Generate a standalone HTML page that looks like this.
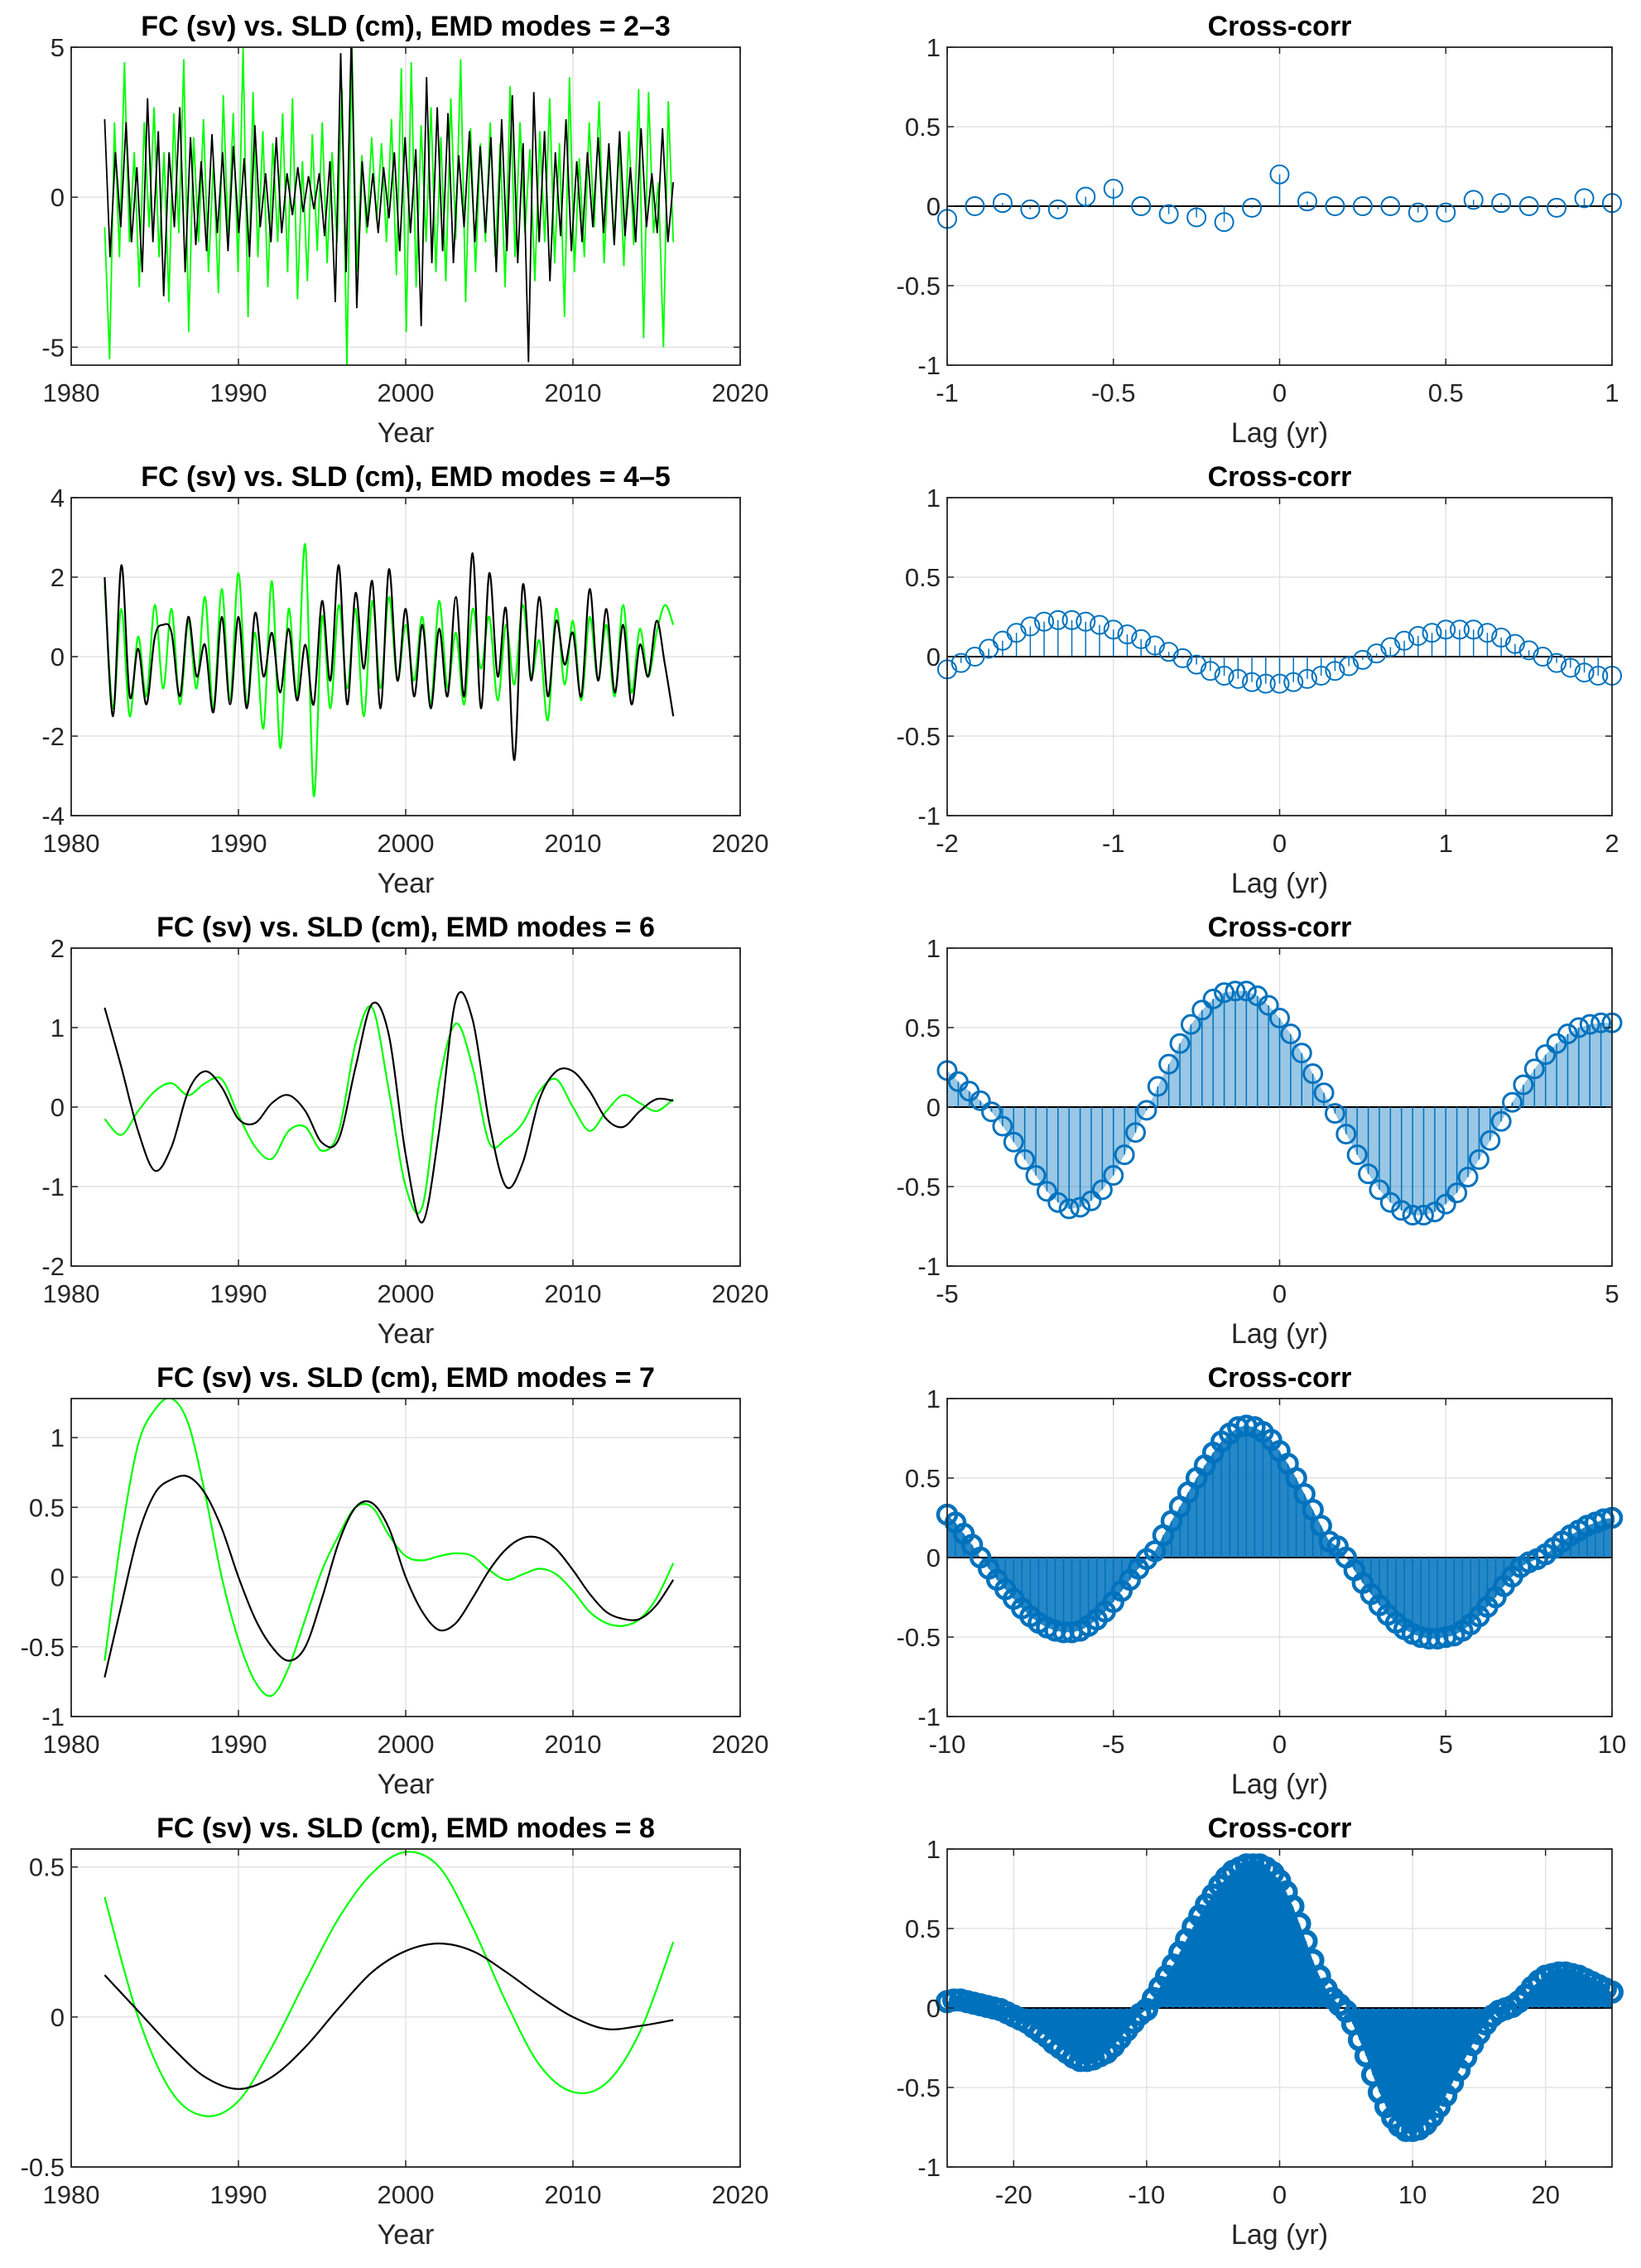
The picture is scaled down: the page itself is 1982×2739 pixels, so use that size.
<!DOCTYPE html>
<html><head><meta charset="utf-8"><style>
html,body{margin:0;padding:0;background:#fff;}
svg{display:block;font-family:"Liberation Sans",Arial,sans-serif;}
</style></head><body>
<svg id="fig" width="1982" height="2739" viewBox="0 0 1982 2739" xmlns="http://www.w3.org/2000/svg"></svg>
<script>
// ---------- DATA ----------
const ts1Green=[-1.0,-5.4,2.5,-2,4.5,-1.5,1.5,-3,2.5,-1,3,-2,1.5,-3.5,2.8,-1.2,4.6,-4.5,2,-1.5,2.6,-2.5,1.2,-3.2,3.4,-1.5,2.8,-2.5,5,-4,3.5,-2,2.2,-3,1.8,-1.5,2.8,-2.5,3.3,-3.4,1.2,-2.8,2.1,-1.8,2.5,-2.2,1.5,-1.5,3.6,-5.7,5,-2.5,1.4,-1.2,2,-0.8,1.8,-1.5,2.6,-2.6,4.3,-4.5,4.5,-3,2.4,-1.5,3.0,-2.5,2.0,-2.8,3.3,-1.4,4.6,-3.5,2.3,-2.5,1.8,-1.5,2.5,-2,1.8,-3,3.7,-2,2.5,-1.2,1.6,-2.8,2.2,-1.5,3.3,-2.2,1.8,-4,4.0,-2.5,1.3,-2,2.5,-1,3.2,-2.2,1.5,-1.5,1.8,-2.3,2.2,-1.6,3.6,-4.7,3.5,-1.2,0.5,-5,3.2,-1.5];
const ts1Black=[2.6,-2,1.5,-1,2.5,-1.5,1,-2.5,3.3,-1.5,2.2,-3.3,1.5,-1,3.0,-2.5,2,-1.6,1.2,-1.8,2.1,-1.2,1.5,-1.8,1.7,-1.2,1.3,-2,2.4,-1,0.8,-1.5,2,-1.2,0.8,-0.6,1,-0.5,0.7,-0.4,0.8,-1.3,1.2,-3.5,4.8,-2.5,5.5,-3.7,1.2,-1,0.8,-1.2,1.0,-0.7,1.5,-1.8,2.0,-1.2,1.6,-4.3,4.0,-2.2,3.0,-1.8,2.8,-2.2,1.4,-1.0,2.2,-1.5,1.7,-1.2,2.0,-2.5,2.6,-1.8,3.4,-2.2,1.8,-5.5,3.5,-1.5,2.2,-2.8,1.5,-1.3,2.6,-1.8,1.2,-1.5,1.5,-1,2,-1.2,1.8,-1.6,2.2,-1.3,1.0,-1.5,2.3,-1.0,0.8,-1.2,2.3,-1.5,0.5];
const ts2Green=[1.8,-1.3,1.2,-1.5,0.5,-1.0,1.3,-0.8,1.2,-1.2,0.9,-0.8,1.5,-1.3,1.7,-1.1,2.1,-1.2,0.6,-1.8,1.9,-2.3,1.2,-1.0,2.8,-3.5,1.0,-1.3,1.3,-0.8,1.2,-1.5,1.4,-0.8,1.5,-0.6,0.8,-0.6,1.0,-1.2,1.4,-0.8,0.6,-1.2,1.2,-0.3,1.0,-1.1,0.8,-0.7,1.3,-0.5,0.4,-1.6,1.2,-0.7,0.9,-1.1,1.0,-0.6,0.8,-1.0,1.3,-0.9,0.7,-0.5,0.6,1.3,0.8];
const ts2Black=[2.0,-1.5,2.3,-1.0,0.2,-1.2,0.5,0.8,0.6,-1.0,1.0,-0.5,0.3,-1.4,1.0,-1.2,1.0,-1.3,1.1,-0.5,0.6,-0.9,0.7,-1.1,0.3,-1.2,1.4,-0.6,2.3,-1.2,1.6,-0.3,1.9,-1.3,2.2,-0.6,1.2,-1.0,0.8,-1.3,0.7,-1.0,1.5,-1.0,2.6,-1.3,2.1,-0.5,1.2,-2.6,1.8,-0.6,1.5,-1.0,0.9,-0.2,0.6,-1.0,1.7,-0.6,1.2,-0.9,0.8,-1.2,0.3,-0.5,0.9,-0.2,-1.5];
const ts3Green=[-0.15,-0.35,-0.05,0.2,0.3,0.15,0.3,0.35,-0.1,-0.5,-0.65,-0.3,-0.25,-0.55,-0.3,0.8,1.25,0.2,-1.0,-1.25,0.3,1.05,0.5,-0.45,-0.4,-0.2,0.2,0.35,0.0,-0.3,-0.05,0.15,0.05,-0.05,0.1];
const ts3Black=[1.25,0.5,-0.3,-0.8,-0.5,0.2,0.45,0.25,-0.15,-0.2,0.05,0.15,-0.05,-0.45,-0.4,0.5,1.3,0.9,-0.6,-1.45,-0.3,1.35,1.1,-0.2,-1.0,-0.7,0.1,0.45,0.45,0.2,-0.15,-0.25,-0.05,0.1,0.08];
const ts4Green=[-0.6,0.3,0.95,1.2,1.28,1.1,0.6,0.0,-0.45,-0.75,-0.85,-0.65,-0.3,0.05,0.3,0.5,0.5,0.3,0.15,0.12,0.15,0.17,0.15,0.05,-0.02,0.02,0.06,0.02,-0.1,-0.25,-0.33,-0.35,-0.3,-0.15,0.1];
const ts4Black=[-0.72,-0.2,0.3,0.6,0.7,0.72,0.6,0.35,0.0,-0.3,-0.5,-0.6,-0.5,-0.15,0.25,0.5,0.53,0.35,0.0,-0.25,-0.38,-0.33,-0.15,0.05,0.2,0.28,0.28,0.2,0.05,-0.12,-0.25,-0.3,-0.3,-0.2,-0.02];
const ts5Green=[0.4,0.0,-0.25,-0.33,-0.28,-0.1,0.12,0.33,0.48,0.55,0.5,0.3,0.05,-0.16,-0.25,-0.22,-0.05,0.25];
const ts5Black=[0.14,0.02,-0.1,-0.2,-0.24,-0.2,-0.1,0.03,0.15,0.22,0.245,0.22,0.15,0.07,0.0,-0.04,-0.03,-0.01];

const cc1=[-0.08,0,0.02,-0.02,-0.02,0.06,0.11,0,-0.05,-0.07,-0.1,-0.01,0.2,0.03,0,0,0,-0.04,-0.04,0.04,0.02,0,-0.01,0.05,0.02];
const cc2=[-0.08,-0.04,0.0,0.05,0.1,0.15,0.19,0.22,0.23,0.23,0.22,0.2,0.17,0.14,0.11,0.07,0.03,-0.01,-0.05,-0.09,-0.12,-0.14,-0.16,-0.17,-0.17,-0.16,-0.14,-0.12,-0.09,-0.06,-0.02,0.02,0.06,0.1,0.13,0.15,0.17,0.17,0.17,0.15,0.12,0.08,0.04,0.0,-0.04,-0.07,-0.1,-0.12,-0.12];
const cc3=[0.23,0.16,0.10,0.04,-0.03,-0.12,-0.22,-0.33,-0.43,-0.53,-0.60,-0.64,-0.63,-0.59,-0.52,-0.43,-0.30,-0.16,-0.02,0.13,0.27,0.40,0.52,0.61,0.68,0.72,0.73,0.73,0.70,0.64,0.56,0.46,0.34,0.21,0.09,-0.04,-0.17,-0.30,-0.42,-0.52,-0.60,-0.65,-0.68,-0.68,-0.66,-0.61,-0.54,-0.44,-0.33,-0.21,-0.09,0.03,0.14,0.24,0.33,0.40,0.46,0.50,0.52,0.53,0.53];
const cc4=[0.27,0.22,0.15,0.08,0.0,-0.07,-0.14,-0.2,-0.26,-0.32,-0.37,-0.41,-0.44,-0.46,-0.47,-0.47,-0.46,-0.43,-0.39,-0.34,-0.28,-0.21,-0.14,-0.07,-0.01,0.04,0.14,0.23,0.32,0.41,0.5,0.58,0.66,0.73,0.78,0.82,0.83,0.82,0.79,0.74,0.67,0.59,0.5,0.4,0.3,0.2,0.1,0.07,0.0,-0.08,-0.16,-0.23,-0.3,-0.36,-0.41,-0.45,-0.48,-0.5,-0.51,-0.51,-0.5,-0.49,-0.46,-0.42,-0.37,-0.31,-0.25,-0.18,-0.12,-0.06,-0.03,-0.01,0.02,0.06,0.1,0.14,0.17,0.2,0.22,0.24,0.25];
const cc5=[0.04,0.05,0.05,0.04,0.03,0.02,0.01,0.0,-0.01,-0.03,-0.05,-0.07,-0.09,-0.12,-0.15,-0.18,-0.22,-0.25,-0.28,-0.31,-0.33,-0.33,-0.32,-0.3,-0.28,-0.24,-0.19,-0.14,-0.09,-0.04,-0.01,0.06,0.13,0.2,0.27,0.35,0.43,0.51,0.58,0.65,0.71,0.77,0.82,0.86,0.88,0.9,0.9,0.9,0.88,0.85,0.8,0.73,0.64,0.53,0.42,0.3,0.2,0.12,0.06,0.02,-0.02,-0.1,-0.2,-0.3,-0.42,-0.53,-0.62,-0.69,-0.74,-0.77,-0.77,-0.76,-0.73,-0.68,-0.62,-0.55,-0.47,-0.39,-0.31,-0.23,-0.16,-0.1,-0.05,-0.02,-0.005,0.01,0.04,0.08,0.13,0.17,0.2,0.21,0.22,0.22,0.21,0.2,0.18,0.16,0.14,0.12,0.1];

const leftTitles=["FC (sv) vs. SLD (cm), EMD modes = 2\u20133","FC (sv) vs. SLD (cm), EMD modes = 4\u20135","FC (sv) vs. SLD (cm), EMD modes = 6","FC (sv) vs. SLD (cm), EMD modes = 7","FC (sv) vs. SLD (cm), EMD modes = 8"];
const leftYRanges=[[-5.6,5],[-4,4],[-2,2],[-1,1.28],[-0.5,0.56]];
const leftYTicks=[[-5,0,5],[-4,-2,0,2,4],[-2,-1,0,1,2],[-1,-0.5,0,0.5,1],[-0.5,0,0.5]];
const yearTicks=[1980,1990,2000,2010,2020];
const lagMax=[1,2,5,10,25];
const lagTicks=[[-1,-0.5,0,0.5,1],[-2,-1,0,1,2],[-5,0,5],[-10,-5,0,5,10],[-20,-10,0,10,20]];
const ccYTicks=[-1,-0.5,0,0.5,1];

// ---------- DRAW ----------
const NS="http://www.w3.org/2000/svg";
const svg=document.getElementById('fig');
function mk(tag,attrs,parent){const e=document.createElementNS(NS,tag);for(const k in attrs)e.setAttribute(k,attrs[k]);(parent||svg).appendChild(e);return e;}
const rowTop=[57,601,1145,1689,2233], AH=384;
const LX0=86,LX1=894,RX0=1144,RX1=1947;
function fmt(v){return (v<0?'-':'')+String(Math.abs(v));}

function axesFrame(g,x0,x1,y0,y1,xt,xs,yt,ys){
  xt.forEach(t=>{const x=xs(t);
    const l=mk('line',{x1:x,x2:x,y1:y0,y2:y1,stroke:'#e3e3e3','stroke-width':1.5},g);
    });
  yt.forEach(t=>{const y=ys(t);
    const l=mk('line',{x1:x0,x2:x1,y1:y,y2:y,stroke:'#e3e3e3','stroke-width':1.5},g);
    });
}
function axesBox(g,x0,x1,y0,y1,xt,xs,yt,ys,xlab,title){
  const r=mk('rect',{x:x0,y:y0,width:x1-x0,height:y1-y0,fill:'none',stroke:'#262626','stroke-width':1.8},g);
  
  xt.forEach(t=>{const x=xs(t);
    mk('line',{x1:x,x2:x,y1:y1,y2:y1-8,stroke:'#262626','stroke-width':1.5},g);
    mk('line',{x1:x,x2:x,y1:y0,y2:y0+8,stroke:'#262626','stroke-width':1.5},g);
    const tx=mk('text',{x:x,y:y1+44,'text-anchor':'middle','font-size':31,fill:'#262626'},g);
    tx.textContent=fmt(t);
    });
  yt.forEach(t=>{const y=ys(t);
    mk('line',{x1:x0,x2:x0+8,y1:y,y2:y,stroke:'#262626','stroke-width':1.5},g);
    mk('line',{x1:x1,x2:x1-8,y1:y,y2:y,stroke:'#262626','stroke-width':1.5},g);
    const tx=mk('text',{x:x0-8,y:y+11,'text-anchor':'end','font-size':31,fill:'#262626'},g);
    tx.textContent=fmt(t);
    });
  const xl=mk('text',{x:(x0+x1)/2,y:y1+93,'text-anchor':'middle','font-size':34,fill:'#262626'},g);
  xl.textContent=xlab;
  const ti=mk('text',{x:(x0+x1)/2,y:y0-14,'text-anchor':'middle','font-size':34,'font-weight':'bold',fill:'#000'},g);
  ti.textContent=title;
}
function spline(pts){
  let d='M'+pts[0][0].toFixed(1)+','+pts[0][1].toFixed(1);
  for(let i=0;i<pts.length-1;i++){
    const p0=pts[Math.max(0,i-1)],p1=pts[i],p2=pts[i+1],p3=pts[Math.min(pts.length-1,i+2)];
    const c1=[p1[0]+(p2[0]-p0[0])/6,p1[1]+(p2[1]-p0[1])/6];
    const c2=[p2[0]-(p3[0]-p1[0])/6,p2[1]-(p3[1]-p1[1])/6];
    d+=' C'+c1[0].toFixed(1)+','+c1[1].toFixed(1)+' '+c2[0].toFixed(1)+','+c2[1].toFixed(1)+' '+p2[0].toFixed(1)+','+p2[1].toFixed(1);
  }
  return d;
}
function linePath(pts){return 'M'+pts.map(p=>p[0].toFixed(1)+','+p[1].toFixed(1)).join(' L');}

const tsGreen=[ts1Green,ts2Green,ts3Green,ts4Green,ts5Green];
const tsBlack=[ts1Black,ts2Black,ts3Black,ts4Black,ts5Black];
const ccs=[cc1,cc2,cc3,cc4,cc5];

for(let r=0;r<5;r++){
  const y0=rowTop[r],y1=y0+AH;
  const gl=mk('g',{});
  
  
  const [ymn,ymx]=leftYRanges[r];
  const xs=v=>LX0+(v-1980)/40*(LX1-LX0);
  const ys=v=>y1-(v-ymn)/(ymx-ymn)*AH;
  axesFrame(gl,LX0,LX1,y0,y1,yearTicks,xs,leftYTicks[r],ys);
  const clipId='cl'+r;
  const cp=mk('clipPath',{id:clipId},gl);mk('rect',{x:LX0,y:y0,width:LX1-LX0,height:AH},cp);
  [[tsGreen[r],'#00ff00','fc-series-line'],[tsBlack[r],'#000000','sld-series-line']].forEach(([arr,col,nm])=>{
    const pts=arr.map((v,i)=>[xs(1982+i*34/(arr.length-1)),ys(v)]);
    const d=r===0?linePath(pts):spline(pts);
    const p=mk('path',{d:d,fill:'none',stroke:col,'stroke-width':r===0?1.8:2.2,'clip-path':'url(#'+clipId+')'},gl);
    
  });
  axesBox(gl,LX0,LX1,y0,y1,yearTicks,xs,leftYTicks[r],ys,'Year',leftTitles[r]);

  const gr=mk('g',{});
  
  
  const L=lagMax[r];
  const lx=v=>RX0+(v+L)/(2*L)*(RX1-RX0);
  const ly=v=>y1-(v+1)/2*AH;
  axesFrame(gr,RX0,RX1,y0,y1,lagTicks[r],lx,ccYTicks,ly);
  const cc=ccs[r];
  const lags=cc.map((v,i)=>-L+i*2*L/(cc.length-1));
  const blue='#0072BD';
  if(r>=2){
    const op=[0,0,0.4,0.85,1][r];
    let d='M'+lx(lags[0]).toFixed(1)+','+ly(0).toFixed(1);
    cc.forEach((v,i)=>{d+=' L'+lx(lags[i]).toFixed(1)+','+ly(v).toFixed(1);});
    d+=' L'+lx(lags[lags.length-1]).toFixed(1)+','+ly(0).toFixed(1)+'Z';
    const a=mk('path',{d:d,fill:blue,'fill-opacity':op,stroke:'none'},gr);
    
  }
  const base=mk('line',{x1:RX0,x2:RX1,y1:ly(0),y2:ly(0),stroke:'#000','stroke-width':2},gr);
  
  const sw=[2,2,3,4.5,6][r];
  cc.forEach((v,i)=>{
    const x=lx(lags[i]),y=ly(v);
    const s=mk('line',{x1:x,x2:x,y1:ly(0),y2:y,stroke:blue,'stroke-width':1.5},gr);
    
    const c=mk('circle',{cx:x,cy:y,r:11,fill:'none',stroke:blue,'stroke-width':sw},gr);
    
  });
  axesBox(gr,RX0,RX1,y0,y1,lagTicks[r],lx,ccYTicks,ly,'Lag (yr)','Cross-corr');
}
</script>
</body></html>
